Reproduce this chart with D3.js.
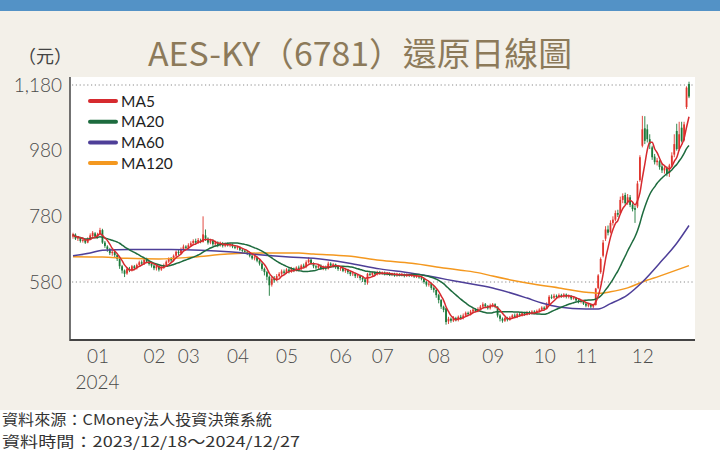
<!DOCTYPE html>
<html><head><meta charset="utf-8">
<script src="https://cdn.jsdelivr.net/npm/d3@7"></script>
<style>body{margin:0;background:#f3f0e9;}svg{display:block;}</style>
</head><body>
<svg id="chart" width="720" height="450"></svg>
<script>
// ---------- DATA ----------
const opens = [718,724,712,715,705,708,700,712,720,728,718,726,738,700,688,680,668,672,662,650,628,615,606,620,616,628,622,632,640,636,648,642,635,630,622,628,618,624,632,642,650,646,660,672,668,680,688,684,692,698,705,700,706,702,722,712,700,706,695,700,692,698,690,696,692,694,688,684,686,678,675,672,668,660,652,655,645,636,620,610,596,572,590,585,598,605,612,608,618,612,620,615,624,620,630,626,640,648,636,628,624,630,622,626,620,636,630,634,626,620,622,614,618,610,604,606,598,600,592,588,578,605,602,608,604,610,606,609,604,607,602,605,600,604,601,603,598,602,599,601,597,598,594,590,580,572,575,562,556,540,525,505,500,460,468,462,470,465,474,470,478,486,482,490,496,492,498,505,512,506,500,508,512,505,478,468,462,470,465,472,478,474,482,478,485,481,488,484,490,486,492,496,502,498,512,535,532,538,534,540,536,542,535,538,530,532,524,520,522,514,508,512,505,510,562,610,660,712,740,732,760,770,790,790,830,845,822,838,815,805,810,890,995,1048,1045,1015,990,962,945,948,932,920,928,912,935,968,1040,985,1050,1012,1113,1183];
const highs = [730,728,720,718,712,710,716,728,735,732,730,745,742,705,692,684,678,675,666,652,632,618,624,626,632,632,636,645,646,652,654,646,640,634,632,630,628,636,646,655,656,664,676,680,685,694,692,698,704,710,712,714,712,780,740,716,712,710,706,704,703,702,700,700,698,697,692,690,688,682,680,676,670,664,660,658,648,640,624,614,600,596,598,604,610,618,618,622,622,626,624,628,630,634,636,646,655,650,640,632,634,634,630,630,642,640,638,636,628,626,625,622,620,614,610,608,604,602,596,592,608,610,612,612,614,614,612,612,610,610,608,608,608,607,607,606,606,605,604,603,602,600,597,592,583,580,578,566,558,544,528,508,502,474,472,476,474,478,480,484,490,490,495,500,500,503,510,518,516,510,514,516,515,506,482,472,474,474,476,482,484,486,486,489,489,492,492,494,494,496,500,506,506,518,540,542,544,542,545,544,546,545,542,540,536,534,528,526,524,516,515,514,514,562,604,655,708,750,752,768,780,798,800,840,850,852,848,845,820,812,888,966,1086,1085,1060,1030,995,970,958,952,940,935,932,940,975,1030,1062,1068,1068,1068,1176,1190];
const lows = [712,708,705,700,700,696,698,708,716,714,712,722,696,684,672,662,660,655,644,620,606,595,602,610,612,616,618,628,630,632,638,630,624,616,615,612,614,620,628,638,640,642,656,662,664,676,678,680,688,694,696,696,698,700,705,694,695,690,688,686,688,685,686,688,686,683,680,678,674,670,668,662,655,648,646,640,630,614,600,585,538,566,578,582,594,600,603,604,606,608,610,612,616,616,622,622,636,632,622,618,620,617,616,615,618,625,624,620,614,614,610,608,604,598,598,592,592,585,580,571,572,598,598,600,600,602,602,600,600,598,598,596,596,597,597,594,595,595,595,592,592,590,585,575,566,566,556,548,532,515,498,488,450,452,456,458,460,460,465,466,474,478,478,486,488,488,494,500,502,496,496,503,500,472,460,456,458,460,462,468,470,470,474,475,477,478,480,481,482,483,488,492,494,496,510,528,528,530,530,532,532,530,530,525,526,520,515,515,510,503,503,500,500,508,558,605,655,705,722,728,752,765,778,786,820,815,815,808,795,760,805,885,990,1000,1005,985,952,938,935,922,912,910,902,900,930,960,980,980,1005,1008,1107,1140];
const closes = [725,712,716,705,708,700,712,722,730,718,725,738,700,690,680,668,672,662,650,628,615,605,620,615,628,622,632,640,636,648,642,635,630,622,628,618,624,632,642,650,646,660,672,668,680,688,684,692,698,705,700,708,702,725,712,700,706,695,700,692,698,690,696,692,694,688,684,686,678,675,672,668,660,652,655,645,636,620,610,596,570,590,585,598,605,612,608,618,612,620,615,624,620,630,626,640,648,636,628,624,630,622,626,620,636,630,634,626,620,622,614,618,610,604,606,598,600,592,588,580,605,602,608,604,610,606,609,604,607,602,605,600,604,601,603,598,602,599,601,597,598,594,590,580,572,575,562,556,540,525,505,495,458,468,462,470,465,474,470,478,486,482,490,496,492,498,505,512,506,500,508,512,505,478,468,462,470,465,472,478,474,482,478,485,481,488,484,490,486,492,496,502,498,512,535,532,538,534,540,536,542,535,538,530,532,524,520,522,514,508,512,505,510,560,600,650,700,740,730,760,770,790,785,830,842,820,838,815,802,800,880,960,1045,1010,1015,1000,960,945,950,930,920,928,910,935,965,1000,985,1030,1010,1060,1172,1145];

// Moving averages (trading-day index, value)
const ma60Idx = [0,7,12,23,40,52,65,76,88,98,112,125,138,145,152,158,171,185,191,198,209,214,219,226,232,239,246,251];
const ma60Val = [660,668,677,679,679,677,671,663,656,652,638,620,607,598,588,580,562,531,516,504,498,498,514,541,580,637,698,752];
const ma120Idx = [0,12,22,35,49,63,76,92,98,112,125,138,152,158,166,171,185,198,212,215,219,226,232,239,251];
const ma120Val = [657,656,652,650,656,665,668,668,665,659,646,637,622,616,607,598,577,562,547,546,550,562,580,598,630];

// Axis labels
const monthLabels = ["01","02","03","04","05","06","07","08","09","10","11","12"];
const monthIdx = [10,33,47,67,87,109,126,149,171,192,209,232];
const yTicks = [580,780,980,1180];
const gridValues = [580,1180];
const legendNames = ["MA5","MA20","MA60","MA120"];
const legendColors = ["#d62a2f","#1d6b3e","#4e3f98","#f4981f"];

// ---------- DRAW ----------
const svg = d3.select("#chart");
const W = 720, H = 450;
const plot = {l:70, r:695, t:77, b:340};

svg.append("rect").attr("width",W).attr("height",H).attr("fill","#f3f0e9");
svg.append("rect").attr("width",W).attr("height",11).attr("fill","#5392c6");
svg.append("rect").attr("x",0).attr("y",410).attr("width",W).attr("height",40).attr("fill","#ffffff");
svg.append("rect").attr("x",plot.l).attr("y",plot.t).attr("width",plot.r-plot.l).attr("height",plot.b-plot.t).attr("fill","#ffffff");

const x = d3.scaleLinear().domain([0, closes.length-1]).range([73, 689]);
const y = d3.scaleLinear().domain([580,1180]).range([282,85]);

svg.append("defs").append("clipPath").attr("id","clip")
  .append("rect").attr("x",plot.l).attr("y",plot.t).attr("width",plot.r-plot.l).attr("height",plot.b-plot.t);

// grid
svg.append("g").selectAll("line").data(gridValues).join("line")
  .attr("x1",plot.l+2).attr("x2",plot.r-1)
  .attr("y1",d=>y(d)).attr("y2",d=>y(d))
  .attr("stroke","#8a8a8a").attr("stroke-width",1).attr("stroke-dasharray","1.2,2.6");

// candles
const gC = svg.append("g").attr("clip-path","url(#clip)");
const idx = d3.range(closes.length);
const upC = "#e0352d", dnC = "#1b7a3a";
gC.selectAll("line.w").data(idx).join("line").attr("class","w")
  .attr("x1",i=>x(i)).attr("x2",i=>x(i))
  .attr("y1",i=>y(highs[i])).attr("y2",i=>y(lows[i]))
  .attr("stroke",i=>closes[i]>=opens[i]?upC:dnC).attr("stroke-width",0.9);
gC.selectAll("rect.b").data(idx).join("rect").attr("class","b")
  .attr("x",i=>x(i)-0.9).attr("width",1.8)
  .attr("y",i=>y(Math.max(opens[i],closes[i])))
  .attr("height",i=>Math.max(0.8, Math.abs(y(opens[i])-y(closes[i]))))
  .attr("fill",i=>closes[i]>=opens[i]?upC:dnC);

// moving averages
function sma(n){
  return closes.map((c,i)=>{const s=Math.max(0,i-n+1);return d3.mean(closes.slice(s,i+1));});
}
const ma5 = sma(5), ma20 = sma(20);
const line = d3.line().x(d=>x(d[0])).y(d=>y(d[1])).curve(d3.curveMonotoneX);
const series = [
  {pts: ma120Idx.map((d,i)=>[d,ma120Val[i]]), c: legendColors[3]},
  {pts: ma60Idx.map((d,i)=>[d,ma60Val[i]]), c: legendColors[2]},
  {pts: ma20.map((v,i)=>[i,v]), c: legendColors[1]},
  {pts: ma5.map((v,i)=>[i,v]), c: legendColors[0]}
];
gC.selectAll("path.ma").data(series).join("path").attr("class","ma")
  .attr("d",d=>line(d.pts)).attr("fill","none").attr("stroke",d=>d.c).attr("stroke-width",1.5);

// axes
const yAxis = d3.axisLeft(y).tickValues(yTicks).tickFormat(d3.format(",")).tickSize(0).tickPadding(8);
const gy = svg.append("g").attr("transform",`translate(${plot.l},0)`).call(yAxis);
gy.select(".domain").remove();
gy.selectAll("text").attr("font-family","Lato, 'Noto Sans', sans-serif").attr("font-weight",300)
  .attr("font-size",19).attr("fill","#4a4a4a");

const xAxis = d3.axisBottom(x).tickValues(monthIdx).tickFormat((d,i)=>monthLabels[i]).tickSize(0).tickPadding(10);
const gx = svg.append("g").attr("transform",`translate(0,${plot.b})`).call(xAxis);
gx.select(".domain").remove();
gx.selectAll("text").attr("font-family","Lato, 'Noto Sans', sans-serif").attr("font-weight",300)
  .attr("font-size",19).attr("fill","#4a4a4a");
svg.append("text").attr("x",x(monthIdx[0])).attr("y",389).attr("text-anchor","middle")
  .attr("font-family","Lato, 'Noto Sans', sans-serif").attr("font-weight",300)
  .attr("font-size",19).attr("fill","#4a4a4a").text("2024");

svg.append("line").attr("x1",plot.l).attr("x2",plot.l).attr("y1",plot.t).attr("y2",plot.b+1)
  .attr("stroke","#444").attr("stroke-width",1.5);
svg.append("line").attr("x1",plot.l).attr("x2",plot.r).attr("y1",plot.b).attr("y2",plot.b)
  .attr("stroke","#444").attr("stroke-width",2);

// legend
const lg = svg.append("g");
legendNames.forEach((n,i)=>{
  const yy = 101 + i*20.7;
  lg.append("line").attr("x1",90).attr("x2",116).attr("y1",yy).attr("y2",yy)
    .attr("stroke",legendColors[i]).attr("stroke-width",4).attr("stroke-linecap","round");
  lg.append("text").attr("x",121).attr("y",yy+5.5).attr("font-family","Lato, 'Noto Sans', sans-serif")
    .attr("font-size",15.5).attr("fill","#1e1e1e").text(n);
});

// title
svg.append("text").attr("x",148).attr("y",66).attr("font-family","'Noto Sans CJK TC', sans-serif")
  .attr("font-size",33).attr("fill","#8c7a5a").attr("textLength",424).attr("lengthAdjust","spacingAndGlyphs")
  .text("AES-KY（6781）還原日線圖");
svg.append("text").attr("x",18).attr("y",63).attr("font-family","'Noto Sans CJK TC', sans-serif")
  .attr("font-size",18).attr("fill","#444").text("（元）");

// footer
svg.append("text").attr("x",2).attr("y",425).attr("font-family","'Noto Sans CJK TC', sans-serif")
  .attr("font-size",14.5).attr("fill","#333").attr("textLength",270).attr("lengthAdjust","spacingAndGlyphs")
  .text("資料來源：CMoney法人投資決策系統");
svg.append("text").attr("x",2).attr("y",446.5).attr("font-family","'Noto Sans CJK TC', sans-serif")
  .attr("font-size",14.5).attr("fill","#333").attr("textLength",298).attr("lengthAdjust","spacingAndGlyphs")
  .text("資料時間：2023/12/18～2024/12/27");
</script>
</body></html>
